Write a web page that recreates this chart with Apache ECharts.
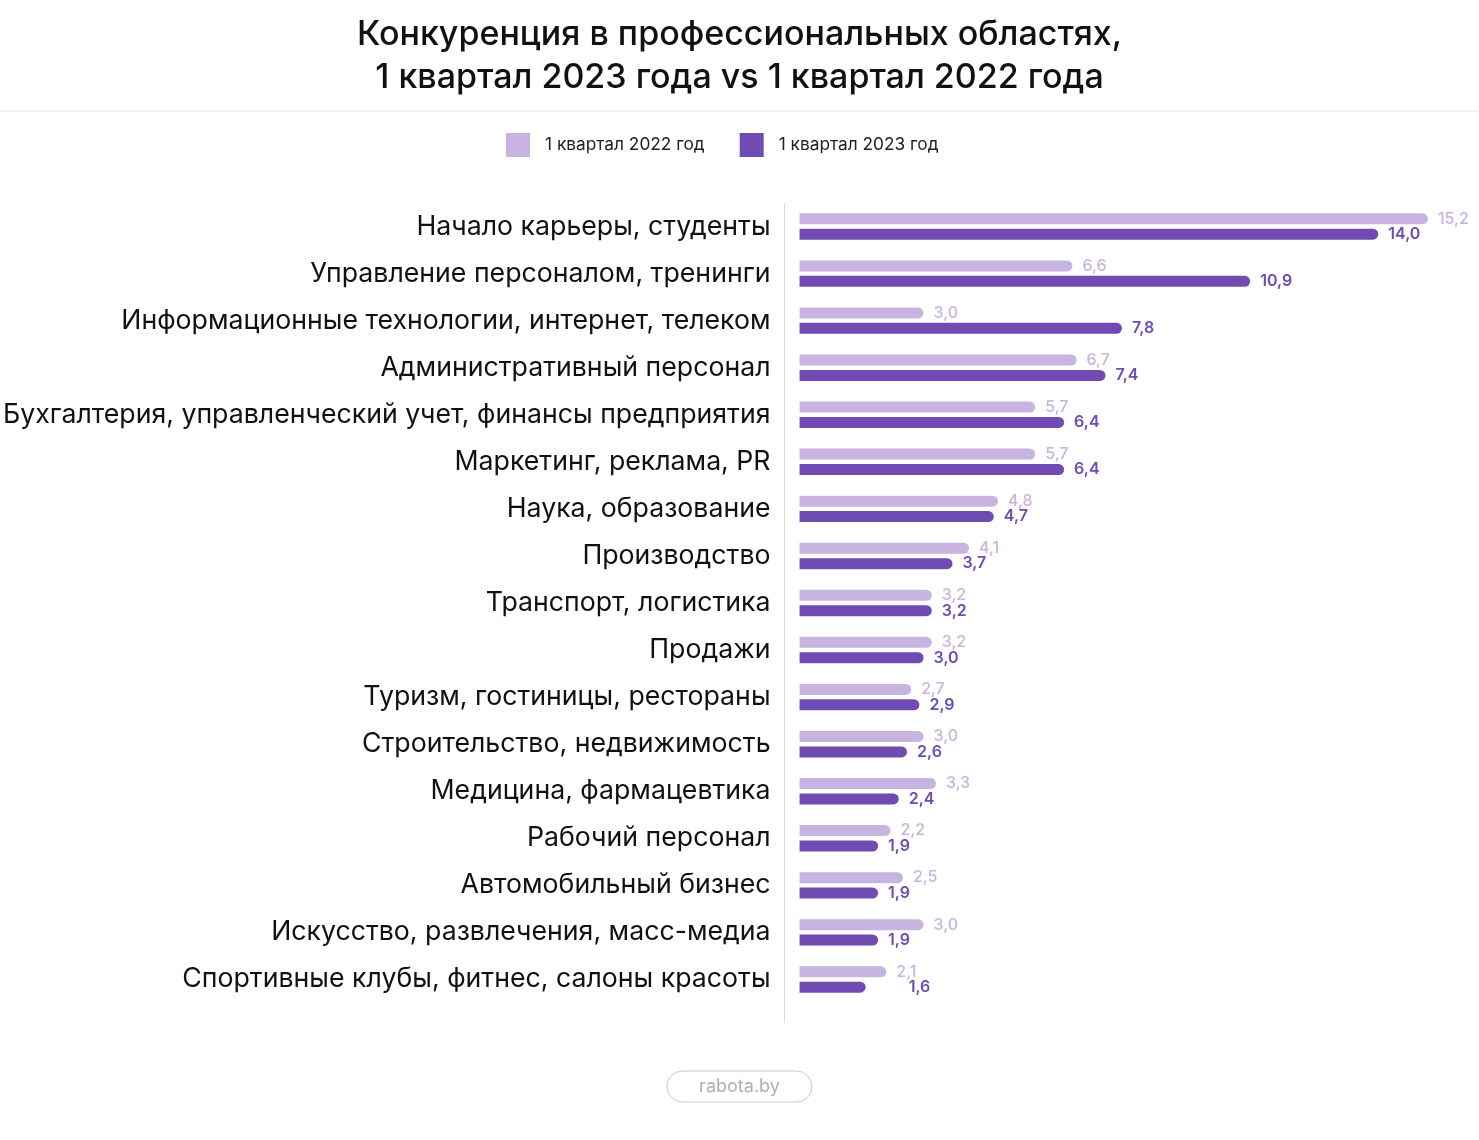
<!DOCTYPE html>
<html>
<head>
<meta charset="utf-8">
<script src="https://cdn.jsdelivr.net/npm/echarts@6/dist/echarts.min.js"></script>
<style>
  html, body { margin: 0; padding: 0; background: #fff; }
  #chart { width: 1479px; height: 1140px; }
</style>
</head>
<body>
<div id="chart"></div>
<script>
// категории и значения (доля конкуренции, резюме на вакансию)
var categories = [
  'Начало карьеры, студенты',
  'Управление персоналом, тренинги',
  'Информационные технологии, интернет, телеком',
  'Административный персонал',
  'Бухгалтерия, управленческий учет, финансы предприятия',
  'Маркетинг, реклама, PR',
  'Наука, образование',
  'Производство',
  'Транспорт, логистика',
  'Продажи',
  'Туризм, гостиницы, рестораны',
  'Строительство, недвижимость',
  'Медицина, фармацевтика',
  'Рабочий персонал',
  'Автомобильный бизнес',
  'Искусство, развлечения, масс-медиа',
  'Спортивные клубы, фитнес, салоны красоты'
];
var q2022 = [15.2, 6.6, 3.0, 6.7, 5.7, 5.7, 4.8, 4.1, 3.2, 3.2, 2.7, 3.0, 3.3, 2.2, 2.5, 3.0, 2.1];
var q2023 = [14.0, 10.9, 7.8, 7.4, 6.4, 6.4, 4.7, 3.7, 3.2, 3.0, 2.9, 2.6, 2.4, 1.9, 1.9, 1.9, 1.6];
var seriesNames = ['1 квартал 2022 год', '1 квартал 2023 год'];

var LIGHT = '#c8b4e0';
var DARK = '#6f4bb2';
var FONT = 'Inter, "Noto Sans", sans-serif';

function fmt(p) {
  return p.value.toFixed(1).replace('.', ',');
}

var chart = echarts.init(document.getElementById('chart'));

var option = {
  backgroundColor: '#fff',
  animation: false,
  title: {
    text: 'Конкуренция в профессиональных областях,\n1 квартал 2023 года vs 1 квартал 2022 года',
    left: 'center',
    top: 8,
    textStyle: {
      color: '#111',
      fontFamily: FONT,
      fontSize: 34,
      fontWeight: 500,
      lineHeight: 43
    }
  },
  legend: {
    top: 128,
    left: 501,
    itemWidth: 24,
    itemHeight: 24,
    itemGap: 35,
    icon: 'rect',
    textStyle: {
      color: '#222',
      fontFamily: FONT,
      fontSize: 17.3,
      padding: [0, 0, 0, 10]
    },
    data: seriesNames
  },
  grid: {
    left: 798,
    right: 18,
    top: 203,
    bottom: 137
  },
  xAxis: {
    type: 'value',
    min: 0,
    max: 16,
    show: false
  },
  yAxis: {
    type: 'category',
    inverse: true,
    data: categories,
    axisLine: { show: false },
    axisTick: { show: false },
    axisLabel: {
      margin: 29,
      color: '#111',
      fontFamily: FONT,
      fontSize: 26.7
    }
  },
  series: [
    {
      name: seriesNames[0],
      type: 'bar',
      data: q2022,
      barWidth: 11,
      barGap: '40%',
      itemStyle: { color: LIGHT, borderRadius: [0, 6, 6, 0] },
      label: {
        show: true,
        position: 'right',
        distance: 10,
        formatter: fmt,
        color: LIGHT,
        fontFamily: FONT,
        fontSize: 16,
        fontWeight: 500
      }
    },
    {
      name: seriesNames[1],
      type: 'bar',
      data: q2023.map(function (v, i) {
        // последняя подпись сдвинута в оригинале вправо
        if (i === q2023.length - 1) {
          return { value: v, label: { offset: [33, 0] } };
        }
        return v;
      }),
      barWidth: 11,
      itemStyle: { color: DARK, borderRadius: [0, 6, 6, 0] },
      label: {
        show: true,
        position: 'right',
        distance: 10,
        formatter: fmt,
        color: DARK,
        fontFamily: FONT,
        fontSize: 16,
        fontWeight: 600
      }
    }
  ],
  graphic: [
    {
      type: 'line',
      shape: { x1: 0, y1: 111, x2: 1479, y2: 111 },
      style: { stroke: '#e2e2e2', lineWidth: 1 }
    },
    {
      type: 'line',
      shape: { x1: 784.5, y1: 203, x2: 784.5, y2: 1023 },
      style: { stroke: '#d8d8d8', lineWidth: 1 }
    },
    {
      type: 'rect',
      shape: { x: 667, y: 1071, width: 145, height: 31, r: 15.5 },
      style: { fill: '#fff', stroke: '#c8c8c8', lineWidth: 1 }
    },
    {
      type: 'text',
      x: 739.5,
      y: 1086.5,
      style: {
        text: 'rabota.by',
        fill: '#b0b0b0',
        font: '18px ' + FONT,
        textAlign: 'center',
        textVerticalAlign: 'middle'
      }
    }
  ]
};

chart.setOption(option);
</script>
</body>
</html>
